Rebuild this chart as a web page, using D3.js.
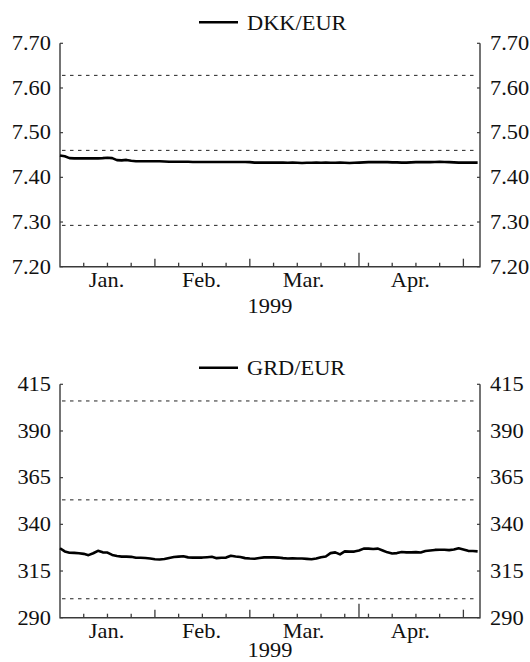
<!DOCTYPE html>
<html>
<head>
<meta charset="utf-8">
<script src="https://cdn.jsdelivr.net/npm/d3@7"></script>
<style>
  body { margin: 0; background: #fff; }
  text { font-family: "Liberation Serif", "Times New Roman", serif; font-size: 20px; fill: #111; }
</style>
</head>
<body>
<div id="chart"></div>
<script>
// Chart size
const width = 530;
const height = 662;

// Month labels and year under the x axis
const monthLabels = ["Jan.", "Feb.", "Mar.", "Apr."];
const yearLabel = "1999";

// Daily values (trading days, 4 Jan - 6 May 1999)
const dkkValues = [
  7.449, 7.447, 7.443, 7.4425, 7.4425, 7.4425, 7.4425, 7.4425, 7.4425, 7.443,
  7.444, 7.443, 7.4385, 7.438, 7.439, 7.437, 7.436, 7.436, 7.436, 7.436,
  7.436, 7.436, 7.4355, 7.435, 7.435, 7.435, 7.435, 7.435, 7.4345, 7.4345,
  7.4345, 7.4345, 7.4345, 7.4345, 7.4345, 7.4345, 7.4345, 7.4345, 7.4345, 7.4345,
  7.434, 7.433, 7.433, 7.433, 7.433, 7.433, 7.433, 7.433, 7.4325, 7.433,
  7.4325, 7.432, 7.4325, 7.4325, 7.433, 7.4325, 7.433, 7.4325, 7.4325, 7.433,
  7.4325, 7.432, 7.4325, 7.433, 7.4335, 7.434, 7.434, 7.434, 7.434, 7.434,
  7.4335, 7.4335, 7.433, 7.433, 7.4335, 7.434, 7.434, 7.434, 7.434, 7.4345,
  7.435, 7.4345, 7.434, 7.4335, 7.433, 7.433, 7.433, 7.433, 7.433
];
const grdValues = [
  327.2, 325.5, 324.8, 324.7, 324.5, 324.2, 323.5, 324.5, 325.8, 325.0,
  324.9, 323.6, 323.0, 322.7, 322.7, 322.6, 322.1, 322.1, 322.0, 321.7,
  321.3, 321.2, 321.4, 322.0, 322.5, 322.7, 322.9, 322.3, 322.2, 322.2,
  322.2, 322.4, 322.6, 321.9, 322.1, 322.2, 323.2, 322.8, 322.5, 321.9,
  321.7, 321.6, 322.0, 322.3, 322.4, 322.3, 322.2, 321.9, 321.7, 321.8,
  321.7, 321.7, 321.5, 321.3, 321.7, 322.4, 322.8, 324.6, 325.0, 323.9,
  325.5, 325.4, 325.4, 326.0, 327.0, 327.0, 326.8, 327.0, 326.0, 325.0,
  324.4, 324.6, 325.2, 325.0, 325.0, 325.1, 324.9, 325.7, 326.0, 326.3,
  326.4, 326.4, 326.2, 326.5, 327.2, 326.5, 325.8, 325.7, 325.5
];

// Axis ticks
const dkkTicks = [7.20, 7.30, 7.40, 7.50, 7.60, 7.70];
const grdTicks = [290, 315, 340, 365, 390, 415];

// ERM II central rates and fluctuation band limits (dotted lines)
const dkkBands = [7.29252, 7.46038, 7.62824];
const grdBands = [300.143, 353.109, 406.075];

// trading days of the period (weekdays only)
const days = d3.timeDay.range(new Date(1999, 0, 4), new Date(1999, 4, 7))
  .filter(d => d.getDay() !== 0 && d.getDay() !== 6);

const svg = d3.select("#chart").append("svg")
  .attr("width", width)
  .attr("height", height);

const x = d3.scaleLinear()
  .domain([0, days.length - 0.5])
  .range([60, 480]);

// the printed font is a bit wider than Liberation Serif
const stretch = 1.12;
function place(sel, px, py) {
  sel.attr("transform", (d, i) => {
    const a = typeof px === "function" ? px(d, i) : px;
    const b = typeof py === "function" ? py(d, i) : py;
    return `translate(${a},${b}) scale(${stretch},1)`;
  });
}

// weekly ticks on Mondays, taller ticks on the first trading day of each month
const mondays = days.map((d, i) => i).filter(i => days[i].getDay() === 1);
const monthStarts = days.map((d, i) => i)
  .filter(i => i === 0 ? false : days[i].getMonth() !== days[i - 1].getMonth());

function drawPanel(g, cfg) {
  const y = d3.scaleLinear().domain(cfg.domain).range([cfg.bottom, cfg.top]);
  const axisColor = "#3a3a3a";

  // dotted band lines
  g.selectAll(".band")
    .data(cfg.bands)
    .join("line")
    .attr("x1", x.range()[0] + 2)
    .attr("x2", x.range()[1] - 2)
    .attr("y1", d => y(d))
    .attr("y2", d => y(d))
    .attr("stroke", "#222")
    .attr("stroke-width", 1)
    .attr("stroke-dasharray", "3.5,4.5");

  // frame: left, right and bottom axis lines
  g.append("path")
    .attr("d", `M${x.range()[0]},${cfg.top}V${cfg.bottom}H${x.range()[1]}V${cfg.top}`)
    .attr("fill", "none")
    .attr("stroke", axisColor)
    .attr("stroke-width", 1.4);

  // y ticks (inward) and labels on both sides
  g.selectAll(".ytl")
    .data(cfg.ticks)
    .join("line")
    .attr("x1", x.range()[0]).attr("x2", x.range()[0] + 3)
    .attr("y1", d => y(d)).attr("y2", d => y(d))
    .attr("stroke", axisColor).attr("stroke-width", 1.2);
  g.selectAll(".ytr")
    .data(cfg.ticks)
    .join("line")
    .attr("x1", x.range()[1]).attr("x2", x.range()[1] - 3)
    .attr("y1", d => y(d)).attr("y2", d => y(d))
    .attr("stroke", axisColor).attr("stroke-width", 1.2);

  g.selectAll(".ylabl")
    .data(cfg.ticks)
    .join("text")
    .attr("dy", "0.34em")
    .attr("text-anchor", "end")
    .text(d => cfg.fmt(d))
    .call(place, x.range()[0] - 9, d => y(d));
  g.selectAll(".ylabr")
    .data(cfg.ticks)
    .join("text")
    .attr("dy", "0.34em")
    .attr("text-anchor", "start")
    .text(d => cfg.fmt(d))
    .call(place, x.range()[1] + 10, d => y(d));

  // x ticks pointing up from the bottom axis
  g.selectAll(".xt")
    .data(mondays.filter(i => i > 0))
    .join("line")
    .attr("x1", d => x(d)).attr("x2", d => x(d))
    .attr("y1", cfg.bottom)
    .attr("y2", d => cfg.bottom - (monthStarts.includes(d) ? 8 : 4))
    .attr("stroke", axisColor).attr("stroke-width", 1.3);
  g.selectAll(".xm")
    .data(monthStarts.filter(i => !mondays.includes(i)))
    .join("line")
    .attr("x1", d => x(d)).attr("x2", d => x(d))
    .attr("y1", cfg.bottom)
    .attr("y2", cfg.bottom - 14)
    .attr("stroke", axisColor).attr("stroke-width", 1.3);

  // month labels centred on each month's trading days
  const bounds = [0].concat(monthStarts);
  g.selectAll(".month")
    .data(monthLabels)
    .join("text")
    .attr("text-anchor", "middle")
    .text(d => d)
    .call(place, (d, i) => x((bounds[i] + bounds[i + 1] - 1) / 2) + 1.5, cfg.bottom + 20);

  g.append("text")
    .attr("text-anchor", "middle")
    .text(yearLabel)
    .call(place, (x.range()[0] + x.range()[1]) / 2, cfg.bottom + cfg.yearGap);

  // series line
  const line = d3.line()
    .x((d, i) => x(i))
    .y(d => y(d))
    .curve(d3.curveLinear);

  g.append("path")
    .datum(cfg.values)
    .attr("d", line)
    .attr("fill", "none")
    .attr("stroke", "#000")
    .attr("stroke-width", 2.6)
    .attr("stroke-linejoin", "round");

  // legend above the plot
  g.append("line")
    .attr("x1", 199).attr("x2", 238)
    .attr("y1", cfg.legendY).attr("y2", cfg.legendY)
    .attr("stroke", "#000").attr("stroke-width", 2.6);
  g.append("text")
    .attr("dy", "0.36em")
    .text(cfg.name)
    .call(place, 247, cfg.legendY);
}

drawPanel(svg.append("g"), {
  name: "DKK/EUR",
  values: dkkValues,
  ticks: dkkTicks,
  bands: dkkBands,
  domain: [7.20, 7.70],
  fmt: d3.format(".2f"),
  top: 43.3,
  bottom: 266.7,
  legendY: 22.3,
  yearGap: 46
});

drawPanel(svg.append("g"), {
  name: "GRD/EUR",
  values: grdValues,
  ticks: grdTicks,
  bands: grdBands,
  domain: [290, 415],
  fmt: d3.format("d"),
  top: 384.3,
  bottom: 617.7,
  legendY: 367.7,
  yearGap: 39
});
</script>
</body>
</html>
